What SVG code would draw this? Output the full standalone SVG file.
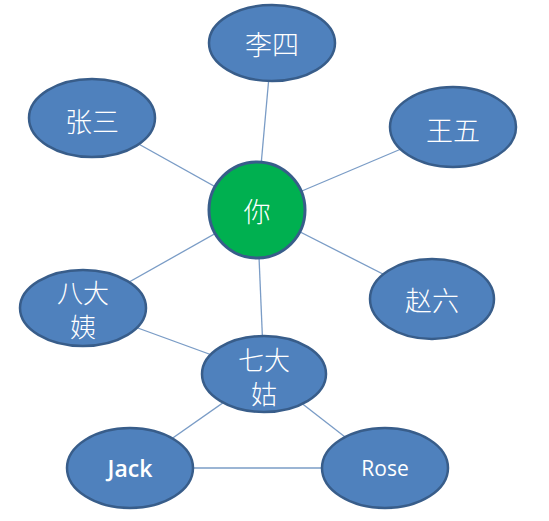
<svg xmlns="http://www.w3.org/2000/svg" width="549" height="521" viewBox="0 0 549 521">
<style>
.n{fill:#4F81BD;stroke:#385D8A;stroke-width:2.5}
.g{fill:#00B050;stroke:#385D8A;stroke-width:3}
.t{fill:#fff;font-family:"Noto Sans CJK SC","Liberation Sans",sans-serif;font-size:27px;font-weight:300;text-anchor:middle;dominant-baseline:central}
.e{fill:#fff;font-family:"Open Sans","Liberation Sans",sans-serif;font-size:23px;text-anchor:middle;dominant-baseline:central}
#edges line{stroke:#7A9CC6;stroke-width:1.3}
</style>
<rect width="549" height="521" fill="#fff"/>
<g id="edges">
<line x1="272" y1="43" x2="257" y2="210"/>
<line x1="92" y1="118" x2="257" y2="210"/>
<line x1="453" y1="127" x2="257" y2="210"/>
<line x1="432" y1="299" x2="257" y2="210"/>
<line x1="83" y1="308" x2="257" y2="210"/>
<line x1="257" y1="210" x2="264" y2="374"/>
<line x1="83" y1="308" x2="264" y2="374"/>
<line x1="264" y1="374" x2="130" y2="468"/>
<line x1="264" y1="374" x2="385" y2="468"/>
<line x1="130" y1="468" x2="385" y2="468"/>
</g>
<g id="lisi"><ellipse class="n" cx="272" cy="43" rx="63" ry="38"/><text class="t" x="272" y="43">李四</text></g>
<g id="zhangsan"><ellipse class="n" cx="92" cy="118" rx="63" ry="39"/><text class="t" x="92" y="120">张三</text></g>
<g id="wangwu"><ellipse class="n" cx="453" cy="127" rx="63" ry="40"/><text class="t" x="453" y="129">王五</text></g>
<g id="ni"><circle class="g" cx="257" cy="210" r="48"/><text class="t" x="257" y="210">你</text></g>
<g id="badayi"><ellipse class="n" cx="83" cy="308" rx="63" ry="38"/><text class="t" x="83" y="291" style="font-size:26px">八大</text><text class="t" x="83" y="325" style="font-size:26px">姨</text></g>
<g id="zhaoliu"><ellipse class="n" cx="432" cy="299" rx="62" ry="40"/><text class="t" x="432" y="299">赵六</text></g>
<g id="qidagu"><ellipse class="n" cx="264" cy="374" rx="62" ry="38"/><text class="t" x="264" y="358" style="font-size:26px">七大</text><text class="t" x="264" y="392" style="font-size:26px">姑</text></g>
<g id="jack"><ellipse class="n" cx="130" cy="468" rx="63" ry="40"/><text class="e" x="130" y="468" style="font-weight:600">Jack</text></g>
<g id="rose"><ellipse class="n" cx="385" cy="468" rx="63" ry="40"/><text class="e" x="385" y="468" style="font-size:21px">Rose</text></g>
</svg>
